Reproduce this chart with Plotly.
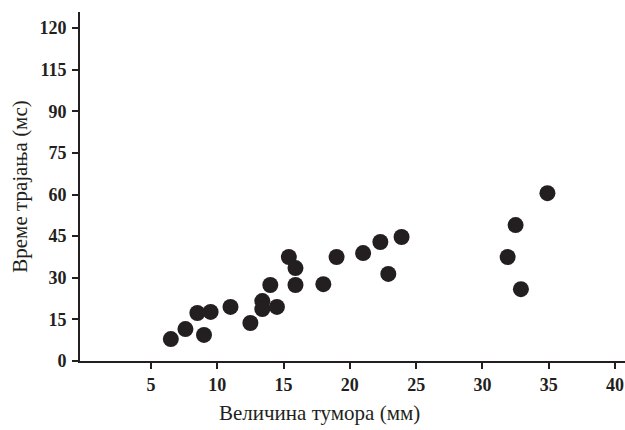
import plotly.graph_objects as go

tumor_size_mm = [6.5, 7.6, 8.5, 9.0, 9.5, 11.0, 12.5, 13.4, 13.4, 14.5, 14.0, 15.4,
                 15.9, 15.9, 18.0, 19.0, 21.0, 22.3, 23.9, 22.9, 31.9, 32.5, 32.9, 34.9]
duration_ms = [7.9, 11.5, 17.3, 9.4, 17.7, 19.5, 13.7, 21.6, 18.7, 19.5, 27.4, 37.5,
               33.5, 27.4, 27.7, 37.5, 38.9, 42.9, 44.7, 31.4, 37.5, 49.0, 25.9, 60.5]

x_ticks = [5, 10, 15, 20, 25, 30, 35, 40]
y_tick_vals = [0, 15, 30, 45, 60, 75, 90, 105, 120]
y_tick_text = ["0", "15", "30", "45", "60", "75", "90", "115", "120"]

ink = "#231f20"
font_family = "Liberation Serif, Times New Roman, serif"

fig = go.Figure(go.Scatter(
    x=tumor_size_mm, y=duration_ms, mode="markers",
    marker=dict(size=16, color=ink, line=dict(width=0)),
))

fig.update_layout(
    width=625, height=430,
    margin=dict(l=80, r=0, t=12, b=69),
    plot_bgcolor="white", paper_bgcolor="white",
    showlegend=False,
    font=dict(family=font_family, color=ink),
    xaxis=dict(
        range=[-0.35, 40.75], tickvals=x_ticks,
        showgrid=False, zeroline=False,
        showline=True, linecolor=ink, linewidth=2,
        ticks="outside", ticklen=6, tickwidth=2, tickcolor=ink,
        tickfont=dict(size=18, family=font_family, color=ink, weight="bold"),
    ),
    yaxis=dict(
        range=[0, 125.8], tickvals=y_tick_vals, ticktext=y_tick_text,
        showgrid=False, zeroline=False,
        showline=True, linecolor=ink, linewidth=2,
        ticks="outside", ticklen=6, tickwidth=2, tickcolor=ink,
        ticklabelstandoff=2,
        tickfont=dict(size=18, family=font_family, color=ink, weight="bold"),
        title=dict(text="Време трајања (мс)", font=dict(size=21, family=font_family, color=ink), standoff=6),
    ),
    annotations=[dict(
        text="Величина тумора (мм)", xref="paper", yref="paper",
        x=0.44, y=-0.149, xanchor="center", yanchor="middle", showarrow=False,
        font=dict(size=21, family=font_family, color=ink),
    )],
)

fig.write_html("out.html")
